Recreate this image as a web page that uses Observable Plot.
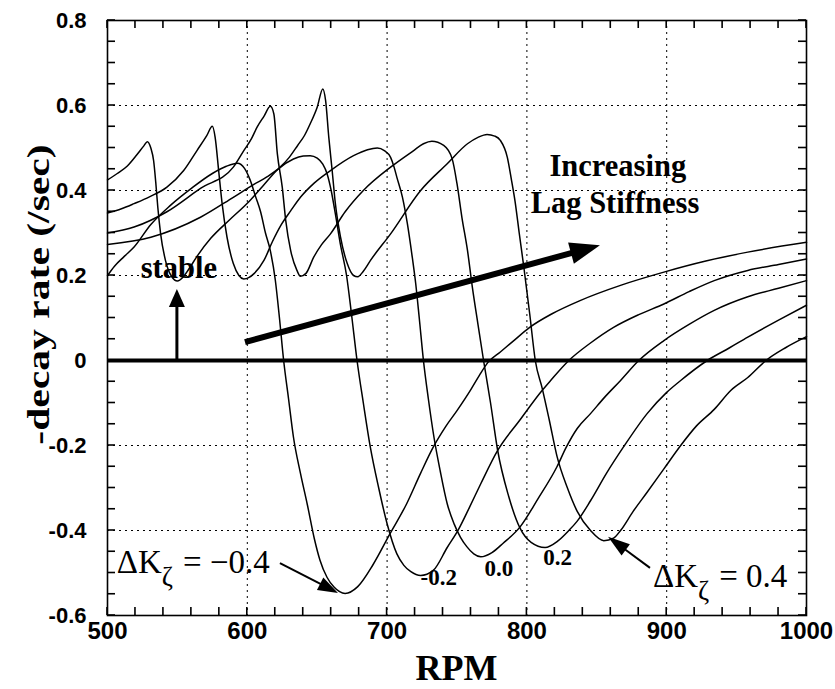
<!DOCTYPE html>
<html><head><meta charset="utf-8">
<script src="https://cdn.jsdelivr.net/npm/d3@7"></script>
<script src="https://cdn.jsdelivr.net/npm/@observablehq/plot@0.6"></script>
<style>
body{margin:0;background:#fff;}
#chart svg{display:block;}
</style></head><body><div id="chart"></div>
<script>
// ---------- axis ticks ----------
const xTicks = [500, 600, 700, 800, 900, 1000];
const xTickLabels = ["500", "600", "700", "800", "900", "1000"];
const yTicks = [-0.6, -0.4, -0.2, 0, 0.2, 0.4, 0.6, 0.8];
const yTickLabels = ["-0.6", "-0.4", "-0.2", "0", "0.2", "0.4", "0.6", "0.8"];
const xMinorStep = 20, yMinorStep = 0.05;

// ---------- series (RPM, -decay rate) ----------
const seriesKeys = ["-0.4", "-0.2", "0.0", "0.2", "0.4"];
const curveM04 = [[500,0.200],[505,0.222],[512,0.245],[519,0.267],[531,0.320],[545,0.365],[560,0.405],[575,0.440],[585,0.457],[593,0.464],[598,0.452],[602,0.425],[606,0.385],[609.5,0.350],[613,0.300],[616.5,0.258],[620,0.190],[623,0.100],[626,0.000],[629.5,-0.090],[633,-0.180],[638,-0.265],[643,-0.340],[648,-0.420],[652,-0.470],[657,-0.510],[662,-0.533],[670,-0.548],[679,-0.532],[690,-0.480],[702,-0.408],[714,-0.337],[724,-0.265],[733,-0.204],[742,-0.155],[750,-0.118],[760,-0.068],[766,-0.035],[772,-0.005],[781,0.020],[790,0.045],[802,0.078],[818,0.110],[838,0.141],[868,0.178],[898,0.208],[928,0.234],[958,0.255],[1000,0.278]];
const curveM02 = [[500,0.425],[507,0.440],[514,0.457],[521,0.484],[526,0.505],[528.5,0.515],[531,0.500],[533,0.470],[534.5,0.420],[536,0.360],[538,0.298],[541.5,0.235],[546,0.197],[550,0.187],[554,0.196],[558,0.214],[564,0.245],[574,0.288],[587,0.330],[600,0.370],[611,0.410],[622,0.450],[633,0.474],[640,0.481],[645,0.482],[650,0.476],[654,0.462],[657,0.440],[660,0.400],[663,0.345],[666.5,0.275],[671,0.200],[674.5,0.110],[678.5,0.000],[683,-0.100],[688,-0.204],[694,-0.300],[700,-0.384],[707,-0.455],[712,-0.482],[717,-0.497],[724,-0.506],[733,-0.494],[743,-0.440],[751,-0.398],[759,-0.345],[767,-0.290],[779,-0.212],[795,-0.140],[811,-0.070],[817,-0.047],[830,0.000],[845,0.040],[862,0.078],[880,0.108],[898,0.133],[916,0.162],[934,0.188],[958,0.212],[980,0.226],[1000,0.239]];
const curve000 = [[500,0.347],[510,0.357],[519,0.369],[530,0.385],[542.5,0.408],[554.5,0.447],[564,0.494],[571,0.529],[575,0.551],[577,0.525],[579.5,0.447],[582,0.369],[585.5,0.290],[590,0.228],[594,0.200],[597.5,0.192],[601,0.195],[605,0.205],[612,0.236],[618,0.280],[624,0.318],[631,0.352],[638,0.384],[648,0.418],[659.5,0.447],[676,0.482],[686,0.496],[693,0.500],[698,0.494],[702.5,0.478],[705,0.455],[707,0.431],[711,0.384],[714.5,0.322],[718,0.243],[720.5,0.180],[723,0.100],[726,0.000],[729.5,-0.090],[733.5,-0.180],[738,-0.260],[743,-0.337],[748,-0.385],[752.5,-0.416],[757,-0.438],[762,-0.455],[767,-0.462],[775,-0.452],[783,-0.430],[795,-0.392],[808,-0.325],[821.5,-0.250],[828,-0.205],[836,-0.160],[845.5,-0.125],[856,-0.085],[867,-0.047],[880,0.000],[898,0.047],[916,0.085],[934,0.118],[958,0.150],[980,0.170],[1000,0.188]];
const curveP02 = [[500,0.300],[519,0.314],[542.5,0.350],[566.5,0.405],[590,0.455],[597.5,0.494],[603,0.522],[607,0.549],[612,0.575],[616.5,0.598],[619,0.580],[621.5,0.486],[625,0.408],[627.5,0.329],[631,0.259],[635.5,0.212],[638,0.198],[642,0.205],[647.5,0.243],[653,0.272],[659.5,0.298],[670,0.350],[683,0.400],[702.5,0.455],[719,0.494],[726,0.510],[732,0.516],[740.5,0.506],[746.5,0.475],[750,0.416],[753.5,0.337],[757.5,0.259],[761,0.172],[765,0.085],[769,0.000],[774,-0.100],[779,-0.210],[787,-0.320],[795,-0.394],[803,-0.428],[813,-0.440],[822,-0.425],[830,-0.400],[836,-0.378],[845.5,-0.330],[857,-0.265],[869,-0.204],[886,-0.125],[900,-0.075],[910,-0.047],[929,0.000],[945,0.030],[958,0.055],[980,0.095],[1000,0.130]];
const curveP04 = [[500,0.273],[531,0.290],[566.5,0.337],[590,0.384],[605,0.415],[614,0.432],[623.5,0.455],[630,0.478],[636,0.506],[641,0.530],[645,0.557],[650,0.596],[654,0.639],[656,0.612],[658.3,0.525],[660.7,0.447],[663,0.369],[666.7,0.290],[671.5,0.228],[676,0.200],[679,0.197],[683,0.210],[688,0.235],[702.5,0.298],[724,0.400],[743,0.463],[757.5,0.510],[765,0.525],[771.5,0.532],[777,0.528],[781,0.518],[786,0.478],[789,0.424],[791.5,0.375],[794.5,0.300],[797.8,0.220],[802,0.110],[806,0.000],[811,-0.066],[816,-0.140],[821.5,-0.225],[829,-0.300],[836,-0.355],[845.5,-0.400],[855,-0.424],[862,-0.418],[867,-0.400],[876,-0.355],[886,-0.310],[898,-0.255],[910,-0.200],[921,-0.155],[934,-0.115],[946,-0.070],[958,-0.040],[971,0.000],[985,0.030],[1000,0.056]];
const curves = [curveM04, curveM02, curve000, curveP02, curveP04];

// ---------- annotations (data coordinates) ----------
const curveLabels = [
  {text: "-0.2", rpm: 737, v: -0.529},
  {text: "0.0", rpm: 780, v: -0.506},
  {text: "0.2", rpm: 822, v: -0.482}
];
const bigLabels = [
  {text: "stable", rpm: 551, v: 0.193},
  {text: "Increasing", rpm: 865, v: 0.433},
  {text: "Lag Stiffness", rpm: 863, v: 0.346}
];
const dkLabels = [
  {value: "= \u22120.4", rpm: 507, v: -0.501},
  {value: "= 0.4", rpm: 890.5, v: -0.534}
];
const arrows = [
  {x1: 550, y1: 0, x2: 550, y2: 0.167, w: 3, hl: 18, hw: 16},
  {x1: 598.7, y1: 0.042, x2: 852.6, y2: 0.27, w: 6, hl: 30, hw: 22},
  {x1: 623.7, y1: -0.478, x2: 665.2, y2: -0.548, w: 2, hl: 20, hw: 14},
  {x1: 888.4, y1: -0.489, x2: 858.4, y2: -0.416, w: 2, hl: 22, hw: 14}
];

// ---------- build ----------
const W = 835, H = 689, mL = 107, mR = 29, mT = 20, mB = 74;
const serif = "'Liberation Serif','Times New Roman',Times,serif";
const sans = "'Liberation Sans',Arial,Helvetica,sans-serif";

const rows = [];
curves.forEach((pts, i) => pts.forEach(([r, v]) => rows.push({k: seriesKeys[i], rpm: r, v})));
const x0 = xTicks[0], x1 = xTicks[xTicks.length - 1], y0 = yTicks[0], y1 = yTicks[yTicks.length - 1];
const xMinor = d3.range(0, Math.round((x1 - x0) / xMinorStep) + 1).map(i => x0 + i * xMinorStep);
const yMinor = d3.range(0, Math.round((y1 - y0) / yMinorStep) + 1).map(i => +(y0 + i * yMinorStep).toFixed(2));
const tickLen = 8;

function extras(index, scales, values, dims) {
  const {x, y} = scales;
  const g = d3.create("svg:g");
  const L = x(x0), R = x(x1), B = y(y0), T = y(y1);
  for (const a of arrows) {
    const X1 = x(a.x1), Y1 = y(a.y1), X2 = x(a.x2), Y2 = y(a.y2);
    const ang = Math.atan2(Y2 - Y1, X2 - X1);
    const bx = X2 - a.hl * Math.cos(ang), by = Y2 - a.hl * Math.sin(ang);
    const nx = -Math.sin(ang) * a.hw / 2, ny = Math.cos(ang) * a.hw / 2;
    const ex = X2 - (a.hl - 2) * Math.cos(ang), ey = Y2 - (a.hl - 2) * Math.sin(ang);
    g.append("line").attr("x1", X1).attr("y1", Y1).attr("x2", ex).attr("y2", ey)
      .attr("stroke", "black").attr("stroke-width", a.w);
    g.append("path").attr("d", `M${X2},${Y2}L${bx + nx},${by + ny}L${bx - nx},${by - ny}Z`).attr("fill", "black");
  }
  for (const d of dkLabels) {
    const t = g.append("text").attr("x", x(d.rpm)).attr("y", y(d.v)).attr("text-anchor", "start")
      .attr("font-family", serif).attr("font-size", 33).attr("font-weight", "normal").attr("fill", "black");
    t.append("tspan").text("\u0394K");
    t.append("tspan").attr("dy", 13).attr("font-size", 27).text("\u03b6");
    t.append("tspan").attr("dy", -13).attr("dx", 10).text(d.value);
  }
  g.append("text").attr("x", L + (R - L) / 2)
    .attr("y", dims.height - 9).attr("text-anchor", "middle")
    .attr("font-family", serif).attr("font-size", 36).attr("font-weight", "bold").attr("fill", "black").text("RPM");
  g.append("text").attr("transform", `translate(49,${(T + B) / 2 - 23}) rotate(-90) scale(1.3,1)`)
    .attr("text-anchor", "middle")
    .attr("font-family", serif).attr("font-size", 32).attr("font-weight", "bold").attr("fill", "black").text("-decay rate (/sec)");
  // inward ticks on all four sides, as filled rectangles
  const tg = g.append("g").attr("fill", "black");
  for (const d of xMinor) {
    const X = x(d);
    tg.append("rect").attr("x", X - 0.8).attr("y", B - tickLen).attr("width", 1.6).attr("height", tickLen);
    tg.append("rect").attr("x", X - 0.8).attr("y", T).attr("width", 1.6).attr("height", tickLen);
  }
  for (const d of yMinor) {
    const Y = y(d);
    tg.append("rect").attr("x", L).attr("y", Y - 0.8).attr("width", tickLen).attr("height", 1.6);
    tg.append("rect").attr("x", R - tickLen).attr("y", Y - 0.8).attr("width", tickLen).attr("height", 1.6);
  }
  return g.node();
}

const chart = Plot.plot({
  width: W, height: H, marginLeft: mL, marginRight: mR, marginTop: mT, marginBottom: mB,
  style: {fontFamily: sans, fontSize: "22px", fontWeight: "bold", color: "black", background: "white", overflow: "visible"},
  x: {domain: [x0, x1], ticks: xTicks, tickFormat: d => xTickLabels[xTicks.indexOf(d)], tickSize: 0, tickPadding: 6, label: null},
  y: {domain: [y0, y1], ticks: yTicks, tickFormat: d => yTickLabels[yTicks.indexOf(d)], tickSize: 0, tickPadding: 21, label: null},
  marks: [
    Plot.ruleX(xTicks.slice(1, -1), {stroke: "black", strokeWidth: 1, strokeDasharray: "2,4"}),
    Plot.ruleY(yTicks.slice(1, -1).filter(d => d !== 0), {stroke: "black", strokeWidth: 1, strokeDasharray: "2,4"}),
    Plot.line(rows, {x: "rpm", y: "v", z: "k", curve: "monotone-x", stroke: "black", strokeWidth: 1.5}),
    Plot.ruleY([0], {stroke: "black", strokeWidth: 4}),
    Plot.frame({stroke: "black", strokeWidth: 1.6}),
    Plot.text(curveLabels, {x: "rpm", y: "v", text: "text", fontFamily: serif, fontWeight: "bold", fontSize: 23, lineAnchor: "bottom", fill: "black"}),
    Plot.text(bigLabels, {x: "rpm", y: "v", text: "text", fontFamily: serif, fontWeight: "bold", fontSize: 30.5, lineAnchor: "bottom", fill: "black"}),
    extras
  ]
});
d3.select(chart).selectAll('[aria-label="x-axis tick label"]').attr("font-size", 24);
document.getElementById("chart").append(chart);
</script></body></html>
